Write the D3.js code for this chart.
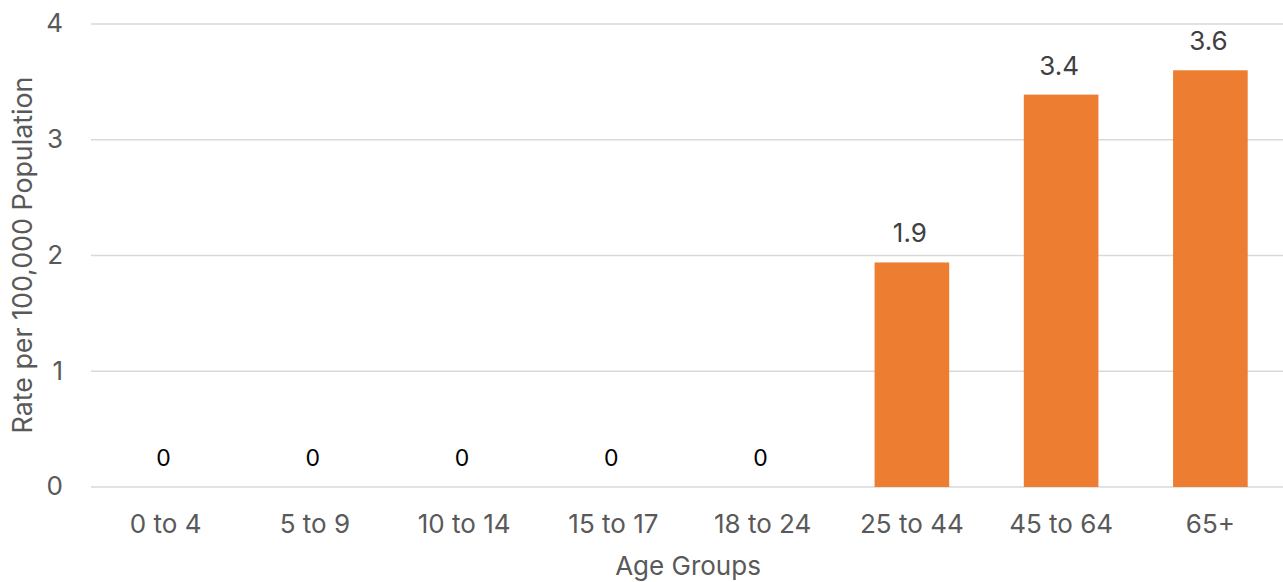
<!DOCTYPE html>
<html><head><meta charset="utf-8">
<script src="https://cdn.jsdelivr.net/npm/d3@7"></script>
<style>body{margin:0;background:#fff}svg{display:block}text{font-family:Inter,sans-serif}</style>
</head><body><svg id="c" width="1283" height="582"></svg>
<script>
const categories = ["0 to 4","5 to 9","10 to 14","15 to 17","18 to 24","25 to 44","45 to 64","65+"];
const values = [0,0,0,0,0,1.94,3.39,3.6];
const labels = ["0","0","0","0","0","1.9","3.4","3.6"];
const yTicks = [0,1,2,3,4];
const FS = 26;

const svg = d3.select("#c");
const x = d3.scaleBand().domain(categories).range([91,1285]).paddingInner(0.5).paddingOuter(0.25);
const y = d3.scaleLinear().domain([0,4]).range([487,24]);

svg.append("g").selectAll("line").data(yTicks).join("line")
  .attr("x1",91).attr("x2",1283).attr("y1",d=>y(d)).attr("y2",d=>y(d))
  .attr("stroke","#d9d9d9").attr("stroke-width",1.5);

const yAxis = d3.axisLeft(y).tickValues(yTicks).tickSize(0).tickPadding(0).tickFormat(d3.format("d"));
const ya = svg.append("g").attr("transform","translate(63,0)").call(yAxis);
ya.select(".domain").remove();
ya.selectAll("text").attr("font-size",FS).attr("fill","#595959").attr("font-family","Inter").attr("dy","0.3em");

const xAxis = d3.axisBottom(x).tickSize(0).tickPadding(0);
const xa = svg.append("g").attr("transform","translate(0,533)").call(xAxis);
xa.select(".domain").remove();
xa.selectAll("text").attr("font-size",FS).attr("fill","#595959").attr("font-family","Inter").attr("dy","0").attr("y",0);

svg.append("g").selectAll("rect").data(values).join("rect")
  .attr("x",(d,i)=>x(categories[i])).attr("width",x.bandwidth())
  .attr("y",d=>y(d)).attr("height",d=>y(0)-y(d)).attr("fill","#ed7d31");

svg.append("g").selectAll("text").data(values).join("text")
  .attr("x",(d,i)=>x(categories[i])+x.bandwidth()/2 - 2)
  .attr("y",d=> d===0 ? 466 : y(d)-20)
  .attr("text-anchor","middle").attr("font-size",d=> d===0 ? 23 : FS)
  .attr("fill",d=> d===0 ? "#000000" : "#404040")
  .text((d,i)=>labels[i]);

svg.append("text").attr("x",688).attr("y",575).attr("text-anchor","middle")
  .attr("font-size",FS).attr("fill","#595959").text("Age Groups");
svg.append("text").attr("transform","translate(32,255) rotate(-90)").attr("text-anchor","middle")
  .attr("font-size",26.8).attr("fill","#595959").text("Rate per 100,000 Population");
</script></body></html>
